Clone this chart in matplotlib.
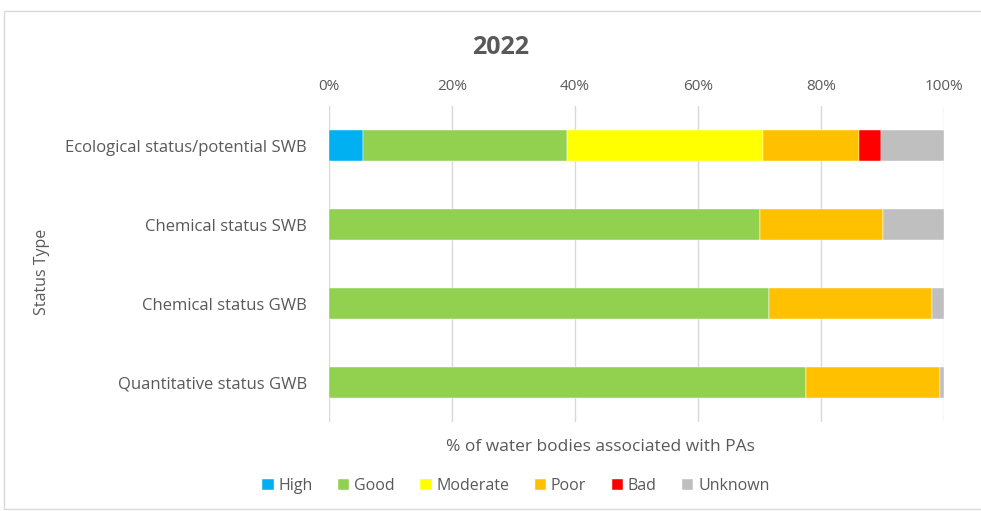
import matplotlib
matplotlib.use("Agg")
import matplotlib.pyplot as plt
from matplotlib.patches import Rectangle

plt.rcParams['font.family'] = ['Open Sans', 'DejaVu Sans']

categories = ["Ecological status/potential SWB", "Chemical status SWB",
              "Chemical status GWB", "Quantitative status GWB"]
series_names = ["High", "Good", "Moderate", "Poor", "Bad", "Unknown"]
high = [5.6, 0, 0, 0]
good = [33.1, 70.1, 71.6, 77.5]
moderate = [31.9, 0, 0, 0]
poor = [15.6, 19.9, 26.5, 21.8]
bad = [3.5, 0, 0, 0]
unknown = [10.3, 10.0, 1.9, 0.7]
colors = ["#00B0F0", "#92D050", "#FFFF00", "#FFC000", "#FF0000", "#BFBFBF"]
xticks = [0, 20, 40, 60, 80, 100]

series = [high, good, moderate, poor, bad, unknown]
text_col = "#595959"

fig = plt.figure(figsize=(9.81, 5.11), dpi=100)
fig.patches.append(Rectangle((4/981, 2/511), 1.2, 498/511, transform=fig.transFigure,
                             fill=False, edgecolor="#D9D9D9", linewidth=1.0))
ax = fig.add_axes([329/981, 1-422/511, 615/981, 316/511])

ypos = list(range(len(categories)))
left = [0]*len(categories)
for name, vals, c in zip(series_names, series, colors):
    ax.barh(ypos, vals, left=left, height=0.39, color=c, label=name,
            edgecolor="white", linewidth=0.3, zorder=3)
    left = [l + v for l, v in zip(left, vals)]

ax.set_xlim(0, 100)
ax.set_ylim(len(categories)-0.5, -0.5)
ax.set_yticks(ypos)
ax.set_yticklabels(categories, fontsize=12, color=text_col)
ax.set_xticks(xticks)
ax.set_xticklabels([f"{t}%" for t in xticks], fontsize=11, color=text_col)
ax.xaxis.tick_top()
ax.tick_params(axis='x', length=0, pad=9)
ax.tick_params(axis='y', length=0, pad=16)
ax.grid(axis='x', color="#D9D9D9", linewidth=1, zorder=0)
for s in ax.spines.values():
    s.set_visible(False)

fig.text(501/981, 1-48/511, "2022", ha='center', va='center', fontsize=18,
         fontweight='bold', color=text_col)
fig.text(600/981, 1-447/511, "% of water bodies associated with PAs", ha='center',
         va='center', fontsize=12.5, color=text_col)
fig.text(42/981, 1-272/511, "Status Type", rotation=90, ha='center', va='center',
         fontsize=11.5, color=text_col)

leg = fig.legend(loc='center', bbox_to_anchor=(516/981, 1-486/511), ncol=6,
                 frameon=False, fontsize=11.5, handlelength=0.7, handleheight=0.7,
                 handletextpad=0.3, columnspacing=1.6)
for t in leg.get_texts():
    t.set_color(text_col)

fig.savefig("out.png", dpi=100)
